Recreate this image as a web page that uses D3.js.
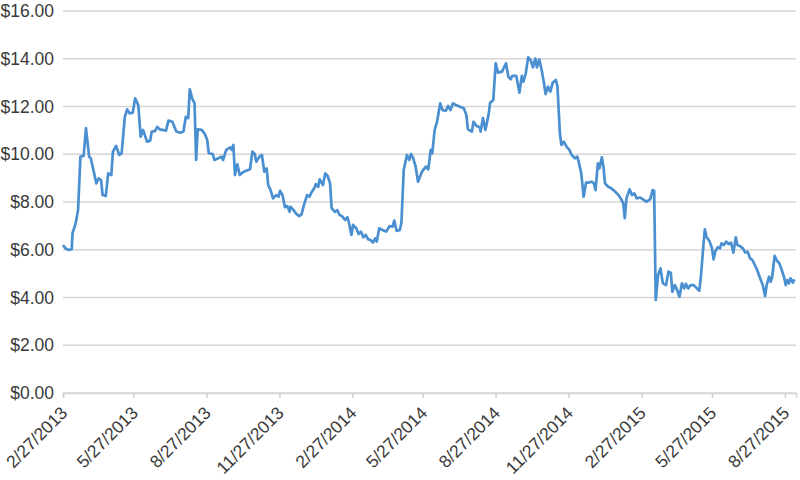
<!DOCTYPE html>
<html>
<head>
<meta charset="utf-8">
<script src="https://cdn.jsdelivr.net/npm/d3@7"></script>
<style>
  html, body { margin: 0; padding: 0; background: #fff; }
  svg { display: block; }
  text { font-family: "Liberation Sans", Arial, Helvetica, sans-serif; fill: #3a3a3a; }
</style>
</head>
<body>
<svg id="chart" width="800" height="480"></svg>
<script>
// ---- DATA ----
const startDate = "2013-02-27";
const endDate = "2015-09-10";
// days after startDate for each observation
const dayOffsets = [
  0,3,7,11,12,16,19,22,26,29,33,35,37,42,45,48,50,54,57,61,63,67,71,74,78,81,84,88,91,95,
  98,101,106,110,112,116,119,122,130,133,138,143,148,152,155,158,160,163,166,168,170,175,179,182,184,189,191,196,200,202,
  206,211,213,215,217,220,223,228,236,239,242,244,248,251,254,257,259,262,265,269,272,274,277,280,283,286,287,291,294,298,
  301,304,308,311,314,317,319,322,324,328,331,334,337,339,343,346,349,352,356,359,361,364,366,370,373,376,379,382,385,388,
  391,394,396,399,403,408,412,416,418,421,425,427,430,434,437,439,442,445,448,453,458,461,464,466,469,472,476,479,483,486,
  489,492,496,501,506,509,511,516,518,522,526,527,530,533,537,539,543,546,549,554,559,562,565,567,572,576,579,581,584,587,
  590,593,596,598,601,604,607,609,612,615,618,622,624,627,629,632,636,639,642,646,649,651,654,657,660,663,667,670,672,675,
  677,680,682,684,688,692,697,701,705,707,709,711,715,718,721,724,728,732,736,741,744,746,748,751,754,757,761,764,767,769,
  772,775,778,781,784,786,789,792,796,800,803,805,808,810,812,816,819,821,823,826,829,831,834,837,840,843,846,849,851,854,
  858,861,864,867,870,873,876,879,883,886,888,891,893,895,898,901,904,907,910,912,914,916,918,921,923
];
const prices = [
  6.20,6.06,5.99,6.02,6.69,7.11,7.66,9.90,9.93,11.09,9.90,9.83,9.55,8.78,8.99,8.92,8.29,8.25,9.20,9.13,10.11,10.35,9.97,10.04,11.57,11.88,11.71,11.74,12.34,12.06,
  10.74,11.02,10.53,10.57,10.95,10.97,11.15,11.04,10.99,11.41,11.36,10.95,10.90,10.95,11.57,11.51,12.72,12.34,12.13,9.76,11.04,11.02,10.85,10.60,10.04,10.01,9.76,9.83,9.90,9.76,
  10.18,10.29,10.18,10.39,9.13,9.58,9.13,9.27,9.37,10.11,10.01,9.69,9.90,9.97,9.27,9.41,8.71,8.50,8.15,8.29,8.22,8.47,8.29,7.78,7.83,7.59,7.80,7.66,7.52,7.41,
  7.48,7.87,8.29,8.22,8.43,8.57,8.75,8.64,8.95,8.71,9.20,9.09,8.78,7.74,7.59,7.66,7.46,7.41,7.25,7.36,7.11,6.62,7.04,6.90,6.66,6.76,6.52,6.62,6.44,6.41,
  6.30,6.48,6.34,6.90,6.83,6.76,6.99,6.97,7.22,6.79,6.83,7.11,9.34,9.97,9.76,10.01,9.83,9.48,8.85,9.27,9.48,9.37,10.18,10.04,11.02,11.36,12.13,11.85,11.82,12.02,
  11.85,12.13,12.06,11.99,11.92,11.64,11.04,10.95,11.36,11.18,11.13,10.95,11.51,11.02,11.64,12.16,12.27,13.81,13.42,13.46,13.81,13.25,13.14,13.28,13.28,12.58,13.28,13.04,13.39,14.06,
  13.95,13.64,14.01,13.64,13.97,13.53,12.97,12.52,12.83,12.62,13.00,13.11,12.83,10.88,10.39,10.53,10.29,10.18,9.97,9.83,9.90,9.65,9.20,8.22,8.81,8.81,8.85,8.78,8.50,9.62,
  9.41,9.87,9.48,8.78,8.64,8.57,8.43,8.29,8.08,7.94,7.32,8.15,8.53,8.29,8.36,8.15,8.19,8.11,8.01,8.11,8.50,8.47,3.90,4.94,5.22,4.59,4.52,5.08,5.04,4.24,
  4.52,4.31,4.03,4.59,4.38,4.57,4.38,4.52,4.52,4.38,4.28,4.87,6.13,6.85,6.55,6.34,6.06,5.60,5.92,6.10,6.06,6.27,6.20,6.34,6.24,6.30,5.88,6.52,6.20,6.16,
  6.06,5.88,5.92,5.64,5.57,5.36,5.15,4.87,4.52,4.06,4.52,4.87,4.66,4.87,5.74,5.54,5.43,5.15,4.85,4.52,4.73,4.59,4.80,4.62,4.76
];
const xTickLabels = ["2/27/2013","5/27/2013","8/27/2013","11/27/2013","2/27/2014","5/27/2014",
                     "8/27/2014","11/27/2014","2/27/2015","5/27/2015","8/27/2015"];
const yTickValues = [0, 2, 4, 6, 8, 10, 12, 14, 16];

// ---- CHART ----
const W = 800, H = 480;
const margin = { top: 11, right: 4, bottom: 87, left: 63 };
const iw = W - margin.left - margin.right;
const ih = H - margin.top - margin.bottom;

const parseISO = d3.timeParse("%Y-%m-%d");
const parseMDY = d3.timeParse("%m/%d/%Y");
const fmtMDY = d3.timeFormat("%-m/%-d/%Y");
const t0 = parseISO(startDate);
const data = dayOffsets.map((d, i) => ({ date: d3.timeDay.offset(t0, d), v: prices[i] }));
const tickDates = xTickLabels.map(s => parseMDY(s));

const x = d3.scaleTime().domain([t0, parseISO(endDate)]).range([0, iw]);
const y = d3.scaleLinear().domain([0, 16]).range([ih, 0]);

const svg = d3.select("#chart");
const g = svg.append("g").attr("transform", `translate(${margin.left},${margin.top})`);
const FONT = "17.5px";

// gridlines
g.append("g").selectAll("line").data(yTickValues).join("line")
  .attr("x1", 0).attr("x2", iw)
  .attr("y1", d => y(d)).attr("y2", d => y(d))
  .attr("stroke", "#d6d6d6").attr("stroke-width", 1.5);

// y axis labels
const yAxis = d3.axisLeft(y).tickValues(yTickValues).tickSize(0).tickPadding(9)
  .tickFormat(d => "$" + d3.format(".2f")(d));
const yg = g.append("g").call(yAxis);
yg.select(".domain").remove();
yg.selectAll("text").style("font-size", FONT).style("fill", "#3a3a3a")
  .style("font-family", '"Liberation Sans", Arial, sans-serif');

// x axis
const xAxis = d3.axisBottom(x).tickValues(tickDates).tickSize(5).tickFormat(fmtMDY);
const xg = g.append("g").attr("transform", `translate(0,${ih})`).call(xAxis);
xg.select(".domain").attr("stroke", "#d6d6d6").attr("stroke-width", 1.5);
xg.selectAll(".tick line").attr("stroke", "#cfcfcf").attr("stroke-width", 1.5);
xg.selectAll("text")
  .style("font-size", FONT).style("fill", "#3a3a3a")
  .style("font-family", '"Liberation Sans", Arial, sans-serif')
  .attr("text-anchor", "end")
  .attr("dy", "0")
  .attr("transform", "translate(5,21) rotate(-45)")
  .attr("y", 0).attr("x", 0);

// line
const line = d3.line().x(d => x(d.date)).y(d => y(d.v)).curve(d3.curveLinear);
g.append("path").datum(data)
  .attr("fill", "none")
  .attr("stroke", "#4a8fd0")
  .attr("stroke-width", 2.7)
  .attr("stroke-linejoin", "round")
  .attr("d", line);
</script>
</body>
</html>
